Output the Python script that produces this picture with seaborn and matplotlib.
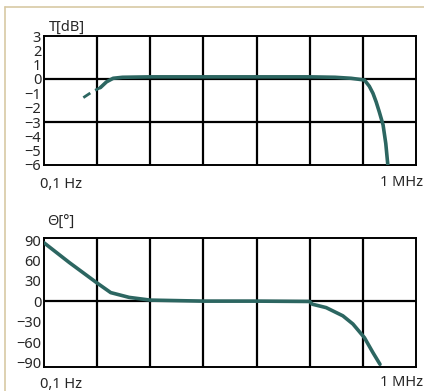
import numpy as np
import pandas as pd
import matplotlib.pyplot as plt
import seaborn as sns
from matplotlib.ticker import NullLocator
from matplotlib.lines import Line2D

# magnitude response
mag_freq = [1.15, 1.5, 2, 3, 10, 100, 1e3, 1e4, 3e4, 6e4, 1.07e5, 1.32e5, 1.55e5, 1.78e5,
            2.04e5, 2.4e5, 2.7e5, 2.95e5]
mag_db = [-0.6, -0.2, 0.05, 0.12, 0.15, 0.15, 0.15, 0.15, 0.12, 0.05, -0.07, -0.5, -1.0, -1.6,
          -2.3, -3.2, -4.5, -6.0]
# dashed low-frequency start
dash_freq = [0.55, 0.8, 1.15]
dash_db = [-1.3, -0.9, -0.6]

# phase response
ph_freq = [0.1, 0.3, 1, 1.8, 4, 10, 100, 1e3, 1e4, 1.12e4, 2.04e4, 4.2e4, 6.5e4, 1.07e5, 1.55e5, 2.1e5]
ph_deg = [86, 57, 27, 13, 6, 2, 0.5, 0.5, 0, -4, -9, -21, -33, -53, -75, -92]

mag_ticks = [3, 2, 1, 0, -1, -2, -3, -4, -5, -6]
ph_ticks = [90, 60, 30, 0, -30, -60, -90]
mag_grid = [0, -3]
ph_grid = [0]
decades = [1, 10, 100, 1e3, 1e4, 1e5]

sns.set_style("white")
plt.rcParams['font.family'] = ['Noto Sans', 'DejaVu Sans']
plt.rcParams['axes.unicode_minus'] = True

curve = "#2c6661"
W, H = 424, 391
fig = plt.figure(figsize=(W / 100, H / 100), dpi=100)

def px(x0, y0, x1, y1):
    return [x0 / W, 1 - y1 / H, (x1 - x0) / W, (y1 - y0) / H]

ax1 = fig.add_axes(px(44, 36, 416, 165))
ax2 = fig.add_axes(px(44, 238, 416, 367))

mag = pd.DataFrame({"f": mag_freq, "T": mag_db})
dash = pd.DataFrame({"f": dash_freq, "T": dash_db})
ph = pd.DataFrame({"f": ph_freq, "P": ph_deg})

sns.lineplot(data=mag, x="f", y="T", ax=ax1, color=curve, lw=2.6, zorder=5)
sns.lineplot(data=dash, x="f", y="T", ax=ax1, color=curve, lw=2.0, zorder=5,
             linestyle=(0, (3, 2)))
sns.lineplot(data=ph, x="f", y="P", ax=ax2, color=curve, lw=2.6, zorder=5)

for ax, ylim, ticks, grid_y in [(ax1, (-6, 3), mag_ticks, mag_grid),
                                (ax2, (-96, 93), ph_ticks, ph_grid)]:
    ax.set_xscale("log")
    ax.set_xlim(0.1, 1e6)
    ax.set_ylim(*ylim)
    ax.set_xticks(decades)
    ax.set_xticklabels([])
    ax.xaxis.set_minor_locator(NullLocator())
    ax.set_yticks(ticks)
    ax.set_yticklabels([str(t).replace("-", "\u2212") for t in ticks], fontsize=10.5)
    ax.tick_params(which="both", length=0, pad=2)
    ax.grid(False)
    ax.grid(True, axis="x", which="major", color="black", lw=1.6)
    for g in grid_y:
        ax.axhline(g, color="black", lw=1.6, zorder=1)
    ax.set_xlabel("")
    ax.set_ylabel("")
    for s in ax.spines.values():
        s.set_color("black")
        s.set_linewidth(1.4)

def ftext(x, y, s, **kw):
    fig.text(x / W, 1 - y / H, s, fontsize=10.5, va="center", **kw)

ftext(49, 27, "T[dB]")
ftext(47, 222, "\u0398[°]")
ftext(40, 184, "0,1 Hz")
ftext(423, 183, "1 MHz", ha="right")
ftext(40, 384, "0,1 Hz")
ftext(423, 382, "1 MHz", ha="right")

# page border
border = "#d8c9a4"
fig.add_artist(Line2D([4.5 / W, 4.5 / W], [0, 1 - 7 / H], color=border, lw=1.2))
fig.add_artist(Line2D([4.5 / W, 1], [1 - 7 / H, 1 - 7 / H], color=border, lw=1.2))

fig.savefig("out.png", dpi=100)
